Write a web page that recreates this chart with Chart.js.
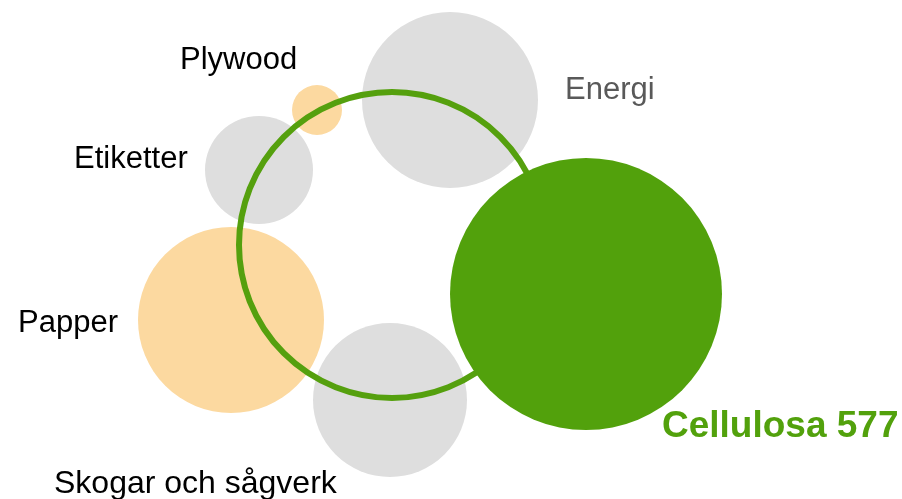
<!DOCTYPE html>
<html>
<head>
<meta charset="utf-8">
<script src="https://cdn.jsdelivr.net/npm/chart.js@4"></script>
<style>
  html, body { margin: 0; padding: 0; background: #fff; }
  #wrap { width: 902px; height: 499px; }
</style>
</head>
<body>
<div id="wrap"><canvas id="myChart"></canvas></div>
<script>
// Bubble data (x, y in page units, r = bubble size)
const names = ['Plywood', 'Energi', 'Etiketter', 'Papper', 'Skogar och sågverk', 'Cellulosa 577'];
const xs = [317, 450, 259, 231, 390, 586];
const ys = [110, 100, 170, 320, 400, 294];
const sizes = [25, 88, 54, 93, 77, 136];
const kinds = ['orange', 'gray', 'gray', 'orange', 'gray', 'green'];

// the big ring
const ringX = [392];
const ringY = [245];
const ringR = [153];

const colors = { gray: '#dedede', orange: '#fcd9a0', green: '#52a10c' };

// label placement (left, baseline) in pixels + font size
const labelPos = [
  [180, 69], [565, 99], [74, 168], [18, 332], [54, 493], [662, 437]
];
const labelSize = [31, 31, 31, 31, 32, 37];

const pts = names.map((n, i) => ({ x: xs[i], y: ys[i], r: sizes[i] }));
const ctx = document.getElementById('myChart');

const labelPlugin = {
  id: 'labels',
  afterDraw(chart) {
    const c = chart.ctx;
    c.save();
    c.textAlign = 'left';
    c.textBaseline = 'alphabetic';
    names.forEach((n, i) => {
      if (kinds[i] === 'green') {
        c.font = 'bold ' + labelSize[i] + 'px "Liberation Sans", Arial, sans-serif';
        c.fillStyle = colors.green;
      } else {
        c.font = labelSize[i] + 'px "Liberation Sans", Arial, sans-serif';
        c.fillStyle = n === 'Energi' ? '#595959' : '#000';
      }
      c.fillText(n, labelPos[i][0], labelPos[i][1]);
    });
    c.restore();
  }
};

const smallPts = pts.filter((p, i) => kinds[i] !== 'green');
const smallKinds = kinds.filter(k => k !== 'green');

new Chart(ctx, {
  type: 'bubble',
  data: {
    datasets: [
      {
        label: 'small',
        data: smallPts,
        backgroundColor: smallKinds.map(k => colors[k]),
        borderWidth: 0,
        order: 3,
      },
      {
        label: 'ring',
        data: ringX.map((x, i) => ({ x: x, y: ringY[i], r: ringR[i] })),
        backgroundColor: 'rgba(0,0,0,0)',
        borderColor: '#55a00e',
        borderWidth: 6,
        order: 2,
      },
      {
        label: 'big',
        data: pts.filter((p, i) => kinds[i] === 'green'),
        backgroundColor: colors.green,
        borderWidth: 0,
        order: 1,
      }
    ]
  },
  options: {
    responsive: true,
    maintainAspectRatio: false,
    animation: false,
    events: [],
    clip: false,
    layout: { padding: 0, autoPadding: false },
    plugins: {
      legend: { display: false },
      tooltip: { enabled: false }
    },
    scales: {
      x: { type: 'linear', min: 0, max: 902, display: false },
      y: { type: 'linear', min: 0, max: 499, reverse: true, display: false }
    }
  },
  plugins: [labelPlugin]
});
</script>
</body>
</html>
